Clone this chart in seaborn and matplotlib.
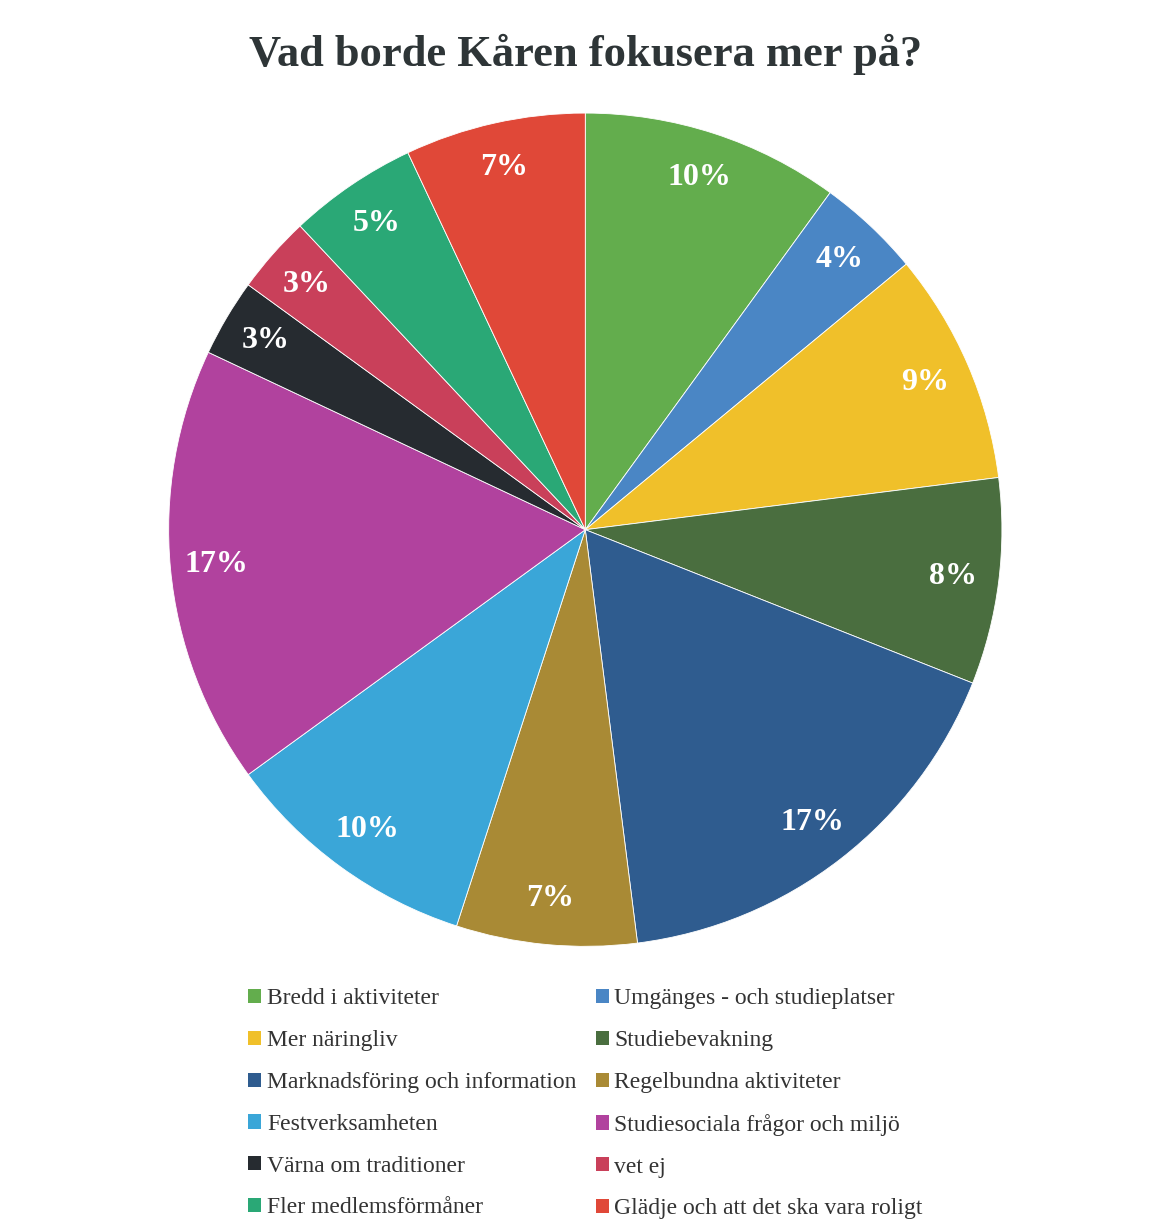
import matplotlib
matplotlib.use("Agg")
import matplotlib.pyplot as plt
import seaborn as sns
from matplotlib.patches import Patch

# Data (percent of answers)
categories = [
    "Bredd i aktiviteter", "Umgänges - och studieplatser", "Mer näringliv",
    "Studiebevakning", "Marknadsföring och information", "Regelbundna aktiviteter",
    "Festverksamheten", "Studiesociala frågor och miljö", "Värna om traditioner",
    "vet ej", "Fler medlemsförmåner", "Glädje och att det ska vara roligt",
]
shares = [10, 4, 9, 8, 17, 7, 10, 17, 3, 3, 5, 7]
colors = [
    "#63ad4d", "#4a86c5", "#f0c02a", "#4a6e3f", "#2f5c8f", "#a98a35",
    "#3aa6d8", "#b1429e", "#262b30", "#c9405a", "#2aa876", "#e04838",
]

sns.set_theme(style="white")
plt.rcParams["font.family"] = ["Liberation Serif", "DejaVu Serif"]

fig = plt.figure(figsize=(11.59, 12.29), dpi=100)
ax = fig.add_axes([0.145, 0.230, 0.72, 0.678])

wedges, texts, autotexts = ax.pie(
    shares, colors=colors, startangle=90, counterclock=False,
    autopct="%.0f%%", pctdistance=0.89, radius=1.0,
    wedgeprops=dict(linewidth=0.6, edgecolor="white"),
    textprops=dict(color="white", fontsize=23, fontweight="bold"),
)
ax.set_xlim(-1.0, 1.0)
ax.set_ylim(-1.0, 1.0)
ax.set_aspect("equal")
ax.axis("off")

fig.text(0.505, 0.956, "Vad borde Kåren fokusera mer på?", ha="center", va="center",
         fontsize=32, fontweight="bold", color="#2e3537")

# legend fills row by row in the original, matplotlib fills columns
handles = [Patch(facecolor=c, edgecolor="none") for c in colors]
order = list(range(0, 12, 2)) + list(range(1, 12, 2))
fig.legend([handles[i] for i in order], [categories[i] for i in order],
           ncol=2, loc="upper left", bbox_to_anchor=(0.196, 0.213),
           frameon=False, fontsize=17, handlelength=0.55, handleheight=0.55,
           handletextpad=0.25, columnspacing=0.8, labelspacing=0.88,
           labelcolor="#333333")

fig.savefig("out.png", dpi=100, facecolor="white")
